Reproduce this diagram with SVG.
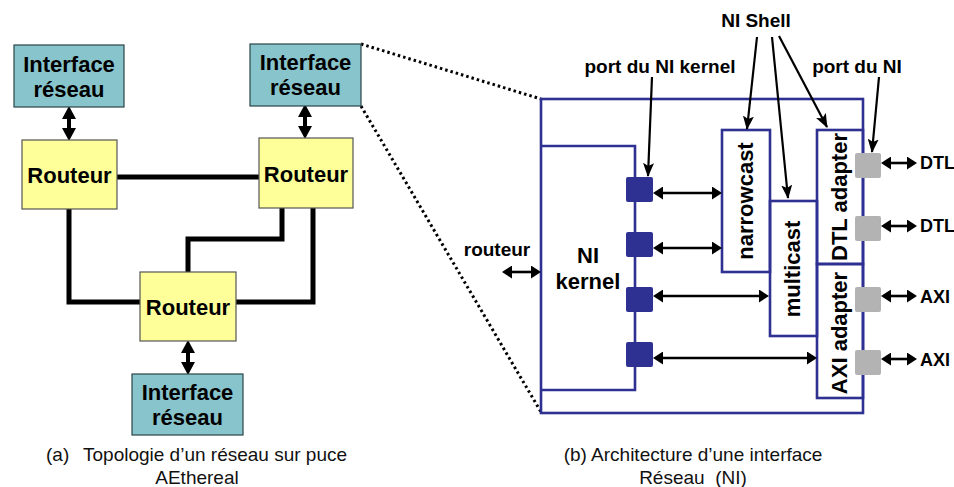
<svg xmlns="http://www.w3.org/2000/svg" width="954" height="487" viewBox="0 0 954 487">
  <style>
    .bold { font-family: "Liberation Sans", Arial, sans-serif; font-weight: bold; fill: #000; }
    .lbl { font-size: 22px; text-anchor: middle; }
    .ann { font-size: 19px; }
    .cap { font-family: "Liberation Sans", Arial, sans-serif; font-size: 19px; fill: #111; }
    .ni { fill: #88C4CB; stroke: #2B4446; stroke-width: 1.2; }
    .rt { fill: #FFFF99; stroke: #555; stroke-width: 1.2; }
    .link { fill: none; stroke: #000; stroke-width: 5; stroke-linejoin: miter; }
    .blk { fill: none; stroke: #2E3192; stroke-width: 2.6; }
    .kport { fill: #2E3192; }
    .gport { fill: #B3B3B3; }
    .thin { stroke: #000; stroke-width: 2.6; fill: none; }
    .ptr { stroke: #000; stroke-width: 2.2; fill: none; }
    .fat { stroke: #000; stroke-width: 4; fill: none; }
    .dots { stroke: #000; stroke-width: 3; stroke-dasharray: 2.5 3; fill: none; }
  </style>
  <defs>
    <marker id="bigHead" markerUnits="userSpaceOnUse" markerWidth="14" markerHeight="14" refX="6" refY="7" orient="auto-start-reverse">
      <path d="M0,0 L13,7 L0,14 z" fill="#000"/>
    </marker>
    <marker id="head" markerUnits="userSpaceOnUse" markerWidth="10" markerHeight="13" refX="4" refY="6.5" orient="auto-start-reverse">
      <path d="M0,0 L10,6.5 L0,13 z" fill="#000"/>
    </marker>
    <marker id="pointer" markerUnits="userSpaceOnUse" markerWidth="14" markerHeight="11" refX="13" refY="5.5" orient="auto">
      <path d="M0,0 L14,5.5 L0,11 L3,5.5 z" fill="#000"/>
    </marker>
  </defs>

  <!-- (a) network topology -->
  <g id="links">
    <line class="link" x1="117" y1="177" x2="259" y2="177"/>
    <polyline class="link" points="69,209 69,302 140,302"/>
    <polyline class="link" points="282,208 282,239 188,239 188,272"/>
    <polyline class="link" points="313,208 313,302 236,302"/>
    <line class="fat" x1="69" y1="113" x2="69" y2="134" marker-start="url(#bigHead)" marker-end="url(#bigHead)"/>
    <line class="fat" x1="305" y1="111" x2="305" y2="132" marker-start="url(#bigHead)" marker-end="url(#bigHead)"/>
    <line class="fat" x1="188" y1="347" x2="188" y2="368" marker-start="url(#bigHead)" marker-end="url(#bigHead)"/>
    <line class="dots" x1="361" y1="44" x2="541" y2="99"/>
    <line class="dots" x1="361" y1="106" x2="541" y2="412"/>
  </g>

  <g id="ni-left">
    <rect class="ni" x="14" y="45" width="110" height="62"/>
    <text class="bold lbl" x="69" y="72">Interface</text>
    <text class="bold lbl" x="69" y="97">réseau</text>
  </g>
  <g id="ni-right">
    <rect class="ni" x="250" y="44" width="111" height="62"/>
    <text class="bold lbl" x="305.5" y="70">Interface</text>
    <text class="bold lbl" x="305.5" y="95">réseau</text>
  </g>
  <g id="router-left">
    <rect class="rt" x="22" y="140" width="95" height="69"/>
    <text class="bold lbl" x="69.5" y="183">Routeur</text>
  </g>
  <g id="router-right">
    <rect class="rt" x="259" y="138" width="94" height="70"/>
    <text class="bold lbl" x="306" y="182">Routeur</text>
  </g>
  <g id="router-bottom">
    <rect class="rt" x="140" y="272" width="96" height="69"/>
    <text class="bold lbl" x="188" y="315">Routeur</text>
  </g>
  <g id="ni-bottom">
    <rect class="ni" x="132" y="374" width="111" height="61"/>
    <text class="bold lbl" x="187.5" y="400">Interface</text>
    <text class="bold lbl" x="187.5" y="425">réseau</text>
  </g>

  <text class="cap" x="46" y="461">(a)</text>
  <text class="cap" x="83" y="461">Topologie d’un réseau sur puce</text>
  <text class="cap" x="197" y="484" text-anchor="middle">AEthereal</text>

  <!-- (b) network interface architecture -->
  <g id="ni-frame">
    <rect class="blk" x="541" y="99" width="322" height="314"/>
  </g>
  <g id="ni-kernel">
    <polyline class="blk" points="541,146 635,146 635,390 541,390"/>
    <text class="bold lbl" x="588" y="263">NI</text>
    <text class="bold lbl" x="588" y="289">kernel</text>
    <rect class="kport" x="626" y="177" width="27" height="25" rx="2"/>
    <rect class="kport" x="626" y="232" width="27" height="25" rx="2"/>
    <rect class="kport" x="626" y="287" width="27" height="25" rx="2"/>
    <rect class="kport" x="626" y="342" width="27" height="25" rx="2"/>
  </g>
  <g id="narrowcast">
    <rect class="blk" x="722" y="130" width="48" height="142"/>
    <text class="bold lbl" transform="translate(753,201) rotate(-90)">narrowcast</text>
  </g>
  <g id="multicast">
    <rect class="blk" x="770" y="201" width="47" height="135"/>
    <text class="bold lbl" transform="translate(800,269) rotate(-90)">multicast</text>
  </g>
  <g id="dtl-adapter">
    <rect class="blk" x="817" y="130" width="46" height="134"/>
    <text class="bold lbl" transform="translate(847,197) rotate(-90)">DTL adapter</text>
    <rect class="gport" x="855" y="153" width="26" height="25" rx="2"/>
    <rect class="gport" x="855" y="216" width="26" height="25" rx="2"/>
  </g>
  <g id="axi-adapter">
    <rect class="blk" x="817" y="264" width="46" height="134"/>
    <text class="bold lbl" transform="translate(847,333) rotate(-90)">AXI adapter</text>
    <rect class="gport" x="855" y="287" width="26" height="25" rx="2"/>
    <rect class="gport" x="855" y="350" width="26" height="25" rx="2"/>
  </g>

  <g id="connectors">
    <line class="thin" x1="508" y1="272" x2="535" y2="272" marker-start="url(#head)" marker-end="url(#head)"/>
    <line class="thin" x1="659" y1="193" x2="716" y2="193" marker-start="url(#head)" marker-end="url(#head)"/>
    <line class="thin" x1="659" y1="248" x2="716" y2="248" marker-start="url(#head)" marker-end="url(#head)"/>
    <line class="thin" x1="659" y1="296" x2="763" y2="296" marker-start="url(#head)" marker-end="url(#head)"/>
    <line class="thin" x1="659" y1="358" x2="811" y2="358" marker-start="url(#head)" marker-end="url(#head)"/>
    <line class="thin" x1="887" y1="163" x2="911" y2="163" marker-start="url(#head)" marker-end="url(#head)"/>
    <line class="thin" x1="887" y1="226" x2="911" y2="226" marker-start="url(#head)" marker-end="url(#head)"/>
    <line class="thin" x1="887" y1="296" x2="911" y2="296" marker-start="url(#head)" marker-end="url(#head)"/>
    <line class="thin" x1="887" y1="359" x2="911" y2="359" marker-start="url(#head)" marker-end="url(#head)"/>
    <line class="ptr" x1="757" y1="37" x2="747" y2="129" marker-end="url(#pointer)"/>
    <line class="ptr" x1="772" y1="37" x2="788" y2="198" marker-end="url(#pointer)"/>
    <line class="ptr" x1="779" y1="36" x2="827" y2="127" marker-end="url(#pointer)"/>
    <line class="ptr" x1="652" y1="77" x2="648" y2="176" marker-end="url(#pointer)"/>
    <line class="ptr" x1="879" y1="77" x2="872" y2="152" marker-end="url(#pointer)"/>
  </g>

  <text class="bold ann" x="756" y="27" text-anchor="middle">NI Shell</text>
  <text class="bold ann" x="660" y="73" text-anchor="middle">port du NI kernel</text>
  <text class="bold ann" x="857" y="73" text-anchor="middle">port du NI</text>
  <text class="bold ann" x="497" y="256" text-anchor="middle">routeur</text>
  <text class="bold" font-size="18" x="920" y="169">DTL</text>
  <text class="bold" font-size="18" x="920" y="232">DTL</text>
  <text class="bold" font-size="18" x="920" y="303">AXI</text>
  <text class="bold" font-size="18" x="920" y="366">AXI</text>

  <text class="cap" x="693" y="461" text-anchor="middle">(b) Architecture d’une interface</text>
  <text class="cap" x="693" y="484" text-anchor="middle" xml:space="preserve">Réseau  (NI)</text>
</svg>
